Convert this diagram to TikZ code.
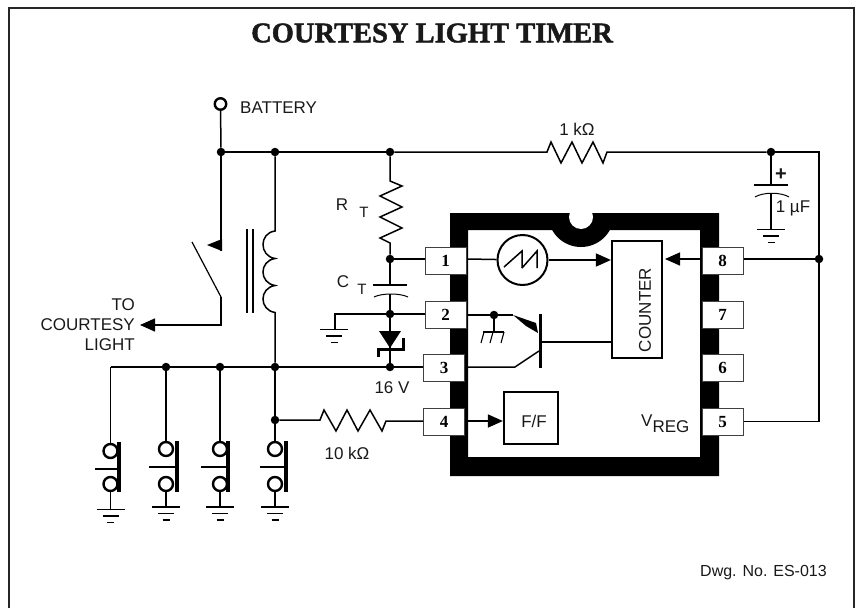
\documentclass[tikz,border=0pt]{standalone}
\usepackage{fontspec}
\setmainfont{Liberation Sans}
\newfontfamily\serifbold{Liberation Serif}[BoldFont=Liberation Serif Bold,BoldFeatures={FakeBold=1.6}]
\newfontfamily\pinbold{Liberation Serif}[BoldFont=Liberation Serif Bold]
\usepackage{tikz}
\usetikzlibrary{arrows.meta}
\tikzstyle{wire}=[line width=1.5pt,line join=miter]
\tikzstyle{tip}=[-{Triangle[length=15pt,width=13pt]},line width=1.5pt]
\tikzstyle{junction}=[circle,fill=black,inner sep=0pt,minimum size=8.5pt]
\tikzstyle{terminal}=[circle,draw=black,line width=2.4pt,fill=white,inner sep=0pt,minimum size=11.5pt]
\tikzstyle{pin}=[draw=black!75,line width=1pt,fill=white,inner sep=0pt,minimum width=41pt,minimum height=27pt,font=\pinbold\bfseries\fontsize{17}{19}\selectfont]
\tikzstyle{block}=[draw=black,line width=2.2pt,fill=white,inner sep=0pt]
\tikzstyle{txt}=[inner sep=0pt,text=black!90,font=\fontsize{17}{19}\selectfont]
\newcommand{\groundsym}[1]{\draw[wire] (#1) ++(-14,0) -- ++(28,0) ++(-22,6.5) -- ++(16,0) ++(-11.5,6.5) -- ++(7,0);}

\begin{document}
\begin{tikzpicture}[x=1pt,y=-1pt]
  \useasboundingbox (0,0) rectangle (857,608);
  \draw[line width=2pt,black!85] (9,608) -- (9,8) -- (854,8) -- (854,608);
  \node[inner sep=0pt,font=\serifbold\bfseries\fontsize{28.5}{31}\selectfont,text=black!90] (title) at (432,33) {COURTESY LIGHT TIMER};

  % chip body
  \fill[even odd rule] (450,213) rectangle (719,476) (468,230) rectangle (700,457);
  \begin{scope}
    \clip (450,213) rectangle (719,476);
    \fill (581,214) circle (33pt);
  \end{scope}
  \fill[white] (581,217) circle (12pt);

  % pins
  \node[pin] (pin1) at (445.5,260.5) {1};
  \node[pin] (pin2) at (445.5,314.5) {2};
  \node[pin] (pin3) at (444,367.5) {3};
  \node[pin] (pin4) at (444,422) {4};
  \node[pin] (pin8) at (722.5,260.5) {8};
  \node[pin] (pin7) at (722.5,314.5) {7};
  \node[pin] (pin6) at (722.5,367.5) {6};
  \node[pin] (pin5) at (722.5,422) {5};

  % junctions
  \node[terminal] (bat) at (220.5,104) {};
  \node[junction] (jsw) at (221,152) {};
  \node[junction] (jcoil) at (275,152) {};
  \node[junction] (jrt) at (390,152) {};
  \node[junction] (jcap) at (771,152) {};
  \node[junction] (jone) at (390,259) {};
  \node[junction] (jtwo) at (390,314) {};
  \node[junction] (jthree) at (390,367) {};
  \node[junction] (jsub) at (494,315) {};
  \node[junction] (jreg) at (819,259) {};
  \node[junction] (jb2) at (166,367) {};
  \node[junction] (jb3) at (220,367) {};
  \node[junction] (jb4) at (275,367) {};
  \node[junction] (jff) at (275,420) {};

  % top rail
  \coordinate (corner) at (819,152);
  \draw[wire] (bat) -- (jsw);
  \draw[wire] (jsw) -- (jcoil);
  \draw[wire] (jcoil) -- (jrt);
  \draw[wire] (jrt) -- (547,152) -- (551,142) -- (561,163) -- (572,142) -- (582,163) -- (593,142) -- (603,163) -- (607,152) -- (jcap);
  \draw[wire] (jcap) -- (corner) -- (jreg);
  \draw[wire] (jreg) -- (819,421.5) -- (pin5.east |- 0,421.5);
  \draw[wire] (jreg) -- (pin8.east |- jreg);

  % timing parts
  \draw[wire] (jrt) -- (390,181) -- (402,186) -- (380,196) -- (402,207) -- (380,217) -- (402,228) -- (380,238) -- (390,243) -- (jone);
  \draw[wire] (jone) -- (jone -| pin1.west);
  \coordinate (ctplate) at (390,285);
  \coordinate (ctarc) at (390,294);
  \draw[wire] (jone) -- (ctplate);
  \draw[wire] (373,285) -- (407,285);
  \draw[line width=1pt] (374,297) .. controls (382,293) and (400,293) .. (408,297);
  \draw[wire] (ctarc) -- (jtwo);
  \draw[wire] (jtwo) -- (jtwo -| pin2.west);
  \coordinate (gndct) at (334,329.5);
  \draw[wire] (jtwo) -- (335,314) -- (335,329.5);
  \groundsym{gndct}

  % zener
  \draw[wire] (jtwo) -- (jthree);
  \fill (379,331) -- (401,331) -- (390,348) -- cycle;
  \draw[line width=3pt] (378,357) -- (378,349) -- (403,349) -- (403,338);

  % supply to buttons
  \draw[wire] (110.5,367) -- (jb2);
  \draw[wire] (jb2) -- (jb3);
  \draw[wire] (jb3) -- (jb4);
  \draw[wire] (jb4) -- (jthree);
  \draw[wire] (jthree) -- (jthree -| pin3.west);
  \draw[wire] (jcoil) -- (275,231) .. controls (259,233) and (259,256) .. (275,258.5) .. controls (259,261) and (259,283) .. (275,285.5) .. controls (259,288) and (259,310) .. (275,312.5) -- (jb4);
  \draw[wire] (jb4) -- (jff);
  \draw[wire] (247,229) -- (247,313);
  \draw[wire] (253,229) -- (253,313);
  \draw[wire] (jff) -- (320,420) -- (324,410) -- (336,431) -- (347,410) -- (358,431) -- (370,410) -- (382,431) -- (386,421) -- (pin4.west |- 0,421);

  % relay contact
  \coordinate (cont) at (221,251);
  \coordinate (conttip) at (207,245);
  \coordinate (bladetop) at (192,242);
  \coordinate (bladebot) at (221,297);
  \coordinate (lightout) at (140,325);
  \draw[wire] (jsw) -- (cont);
  \fill (222,239) -- (222,251) -- (conttip) -- cycle;
  \draw[line width=1.2pt] (bladetop) -- (bladebot);
  \draw[tip] (bladebot) -- (221,325) -- (lightout);

  % push buttons
  \foreach \n/\x/\ya/\ybar/\xcross/\ycross/\xbar/\ygnd in {1/110.5/451/442/95/469/119/509.5,2/166/449/441/149/467/177/507,3/220/449/441/201/467/228/507,4/275/449/441/260/467/286/507}{
    \node[terminal,minimum size=14pt] (top\n) at (\x,\ya) {};
    \node[terminal,minimum size=14pt] (bot\n) at (\x,484) {};
    \coordinate (gnd\n) at (\x,\ygnd);
    \coordinate (bar\n) at (\xbar,\ybar);
    \draw[line width=3.5pt] (bar\n) -- (\xbar,492);
    \draw[wire] (\xcross,\ycross) -- (\xbar,\ycross);
    \draw[wire] (bot\n) -- (gnd\n);
    \groundsym{gnd\n}
  }
  \draw[wire] (110.5,367) -- (top1);
  \draw[wire] (jb2) -- (top2);
  \draw[wire] (jb3) -- (top3);
  \draw[wire] (jff) -- (top4);

  % inside the chip
  \node[circle,draw=black,line width=2pt,inner sep=0pt,minimum size=50pt] (ramp) at (522.5,260) {};
  \draw[wire] (504,267) -- (522,251) -- (522,268);
  \draw[wire] (522,268) -- (537,251) -- (537,268);
  \node[block,minimum width=50pt,minimum height=117pt] (counter) at (637,299.5) {};
  \node[block,minimum width=54pt,minimum height=52pt] (ff) at (531,418) {};
  \draw[wire] (468,259) -- (ramp);
  \draw[tip] (ramp) -- (ramp -| counter.west);
  \draw[tip] (700,259) -- (665,259);
  \draw[tip] (468,421) -- (ff.west |- 0,421);

  % transistor
  \coordinate (base) at (540,342);
  \coordinate (emit) at (513,315);
  \coordinate (coll) at (539,351);
  \draw[line width=3pt] (540,314) -- (540,368);
  \draw[wire] (468,315) -- (jsub);
  \draw[wire] (jsub) -- (emit);
  \draw[wire] (base) -- (counter.west |- base);
  \draw[wire] (468,367) -- (515,367) -- (coll);
  \fill (emit) -- (536,323) -- (538,333) -- (526,326) -- cycle;
  \coordinate (sub) at (494,332);
  \draw[wire] (jsub) -- (sub);
  \draw[line width=1.1pt] (483,332) -- (504,332);
  \foreach \x in {484,493,504}{
    \draw[line width=1.1pt] (\x,332) -- (\x-3,343);
  }

  % reservoir capacitor
  \coordinate (cplate) at (771,185);
  \coordinate (carc) at (771,193);
  \coordinate (gndc) at (771,229.5);
  \draw[wire] (jcap) -- (cplate);
  \draw[wire] (754,185) -- (788,185);
  \draw[line width=1pt] (755,197) .. controls (763,192) and (781,192) .. (789,197);
  \draw[wire] (carc) -- (gndc);
  \groundsym{gndc}

  % labels
  \node[txt,anchor=west] (lbat) at (240,108) {BATTERY};
  \node[txt] (lone) at (577,129) {1 kΩ};
  \node[txt,font=\bfseries\fontsize{20}{22}\selectfont] (lplus) at (781,175) {+};
  \node[txt] (lcap) at (793,208) {1 µF};
  \node[txt] (lr) at (342,205) {R};
  \node[txt,font=\fontsize{15}{17}\selectfont] (lrt) at (364,212) {T};
  \node[txt] (lc) at (343,282) {C};
  \node[txt,font=\fontsize{15}{17}\selectfont] (lct) at (362,289) {T};
  \node[txt,anchor=east] (lto) at (135,305) {TO};
  \node[txt,anchor=east] (lcou) at (135,325) {COURTESY};
  \node[txt,anchor=east] (llig) at (135,345) {LIGHT};
  \node[txt] (lz) at (392,388) {16 V};
  \node[txt] (lrr) at (347,453) {10 kΩ};
  \node[txt,anchor=west] (lreg) at (641,424) {V\raisebox{-6pt}{REG}};
  \node[txt] (lff) at (534,421) {F/F};
  \node[txt,rotate=90] (lcount) at (645,310) {COUNTER};
  \node[txt,font=\fontsize{16}{18}\selectfont] (ldwg) at (763.5,573) {Dwg. No. ES-013};
\end{tikzpicture}
\end{document}
